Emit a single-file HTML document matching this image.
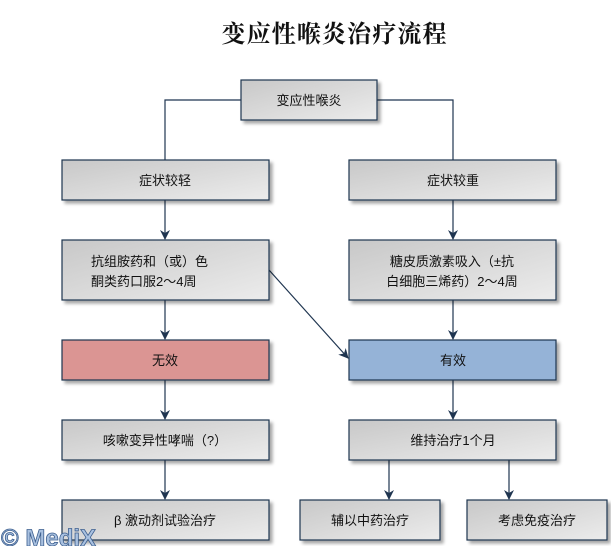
<!DOCTYPE html>
<html><head><meta charset="utf-8"><style>
body{margin:0;width:611px;height:546px;background:#fff;overflow:hidden;font-family:"Liberation Sans","Noto Sans CJK SC",sans-serif}
</style></head><body>
<svg width="611" height="546" xmlns="http://www.w3.org/2000/svg" style="font-family:'Liberation Sans','Noto Sans CJK SC',sans-serif">
<defs>
<linearGradient id="g" x1="0" y1="0" x2="1" y2="1"><stop offset="0" stop-color="#c8c8c8"/><stop offset="1" stop-color="#ececec"/></linearGradient>
<filter id="s" x="-10%" y="-20%" width="130%" height="160%"><feDropShadow dx="3" dy="3" stdDeviation="1.5" flood-color="#000" flood-opacity="0.35"/></filter>
<marker id="a" markerWidth="10" markerHeight="12" refX="9" refY="6" orient="auto" markerUnits="userSpaceOnUse"><path d="M0,1 L10,6 L0,11 L3,6 z" fill="#1f3550"/></marker>
</defs>
<text x="334" y="42" text-anchor="middle" font-size="24" font-weight="bold" fill="#111" textLength="225" style="font-family:'Liberation Serif','Noto Serif CJK SC',serif">变应性喉炎治疗流程</text>
<g stroke="#1f3550" stroke-width="1.2" fill="none">
<polyline points="241,100 165,100 165,160"/>
<polyline points="377,100 453,100 453,160"/>
<line x1="165" y1="200" x2="165" y2="239" marker-end="url(#a)"/>
<line x1="453" y1="200" x2="453" y2="239" marker-end="url(#a)"/>
<line x1="165" y1="300" x2="165" y2="339" marker-end="url(#a)"/>
<line x1="453" y1="300" x2="453" y2="339" marker-end="url(#a)"/>
<line x1="269" y1="270" x2="348" y2="358" marker-end="url(#a)"/>
<line x1="165" y1="380" x2="165" y2="419" marker-end="url(#a)"/>
<line x1="453" y1="380" x2="453" y2="419" marker-end="url(#a)"/>
<line x1="165" y1="460" x2="165" y2="499" marker-end="url(#a)"/>
<line x1="389" y1="460" x2="389" y2="499" marker-end="url(#a)"/>
<line x1="509" y1="460" x2="509" y2="499" marker-end="url(#a)"/>
</g>
<g stroke="#1f3550" stroke-width="1.2" filter="url(#s)">
<rect x="241" y="80" width="136" height="40" fill="url(#g)"/>
<rect x="62" y="160" width="207" height="40" fill="url(#g)"/>
<rect x="349" y="160" width="207" height="40" fill="url(#g)"/>
<rect x="62" y="240" width="207" height="60" fill="url(#g)"/>
<rect x="349" y="240" width="207" height="60" fill="url(#g)"/>
<rect x="62" y="340" width="207" height="40" fill="#db9593"/>
<rect x="349" y="340" width="207" height="40" fill="#95b3d7"/>
<rect x="62" y="420" width="207" height="40" fill="url(#g)"/>
<rect x="349" y="420" width="207" height="40" fill="url(#g)"/>
<rect x="62" y="500" width="207" height="40" fill="url(#g)"/>
<rect x="300" y="500" width="140" height="40" fill="url(#g)"/>
<rect x="467" y="500" width="140" height="40" fill="url(#g)"/>
</g>
<g font-size="13" fill="#111" text-anchor="middle">
<text x="309" y="105">变应性喉炎</text>
<text x="165" y="185">症状较轻</text>
<text x="453" y="185">症状较重</text>
<text x="91" y="266" text-anchor="start">抗组胺药和（或）色</text>
<text x="91" y="286" text-anchor="start">酮类药口服2～4周</text>
<text x="452" y="266">糖皮质激素吸入（±抗</text>
<text x="452" y="286">白细胞三烯药）2～4周</text>
<text x="165" y="365">无效</text>
<text x="453" y="365">有效</text>
<text x="165" y="445">咳嗽变异性哮喘（?）</text>
<text x="453" y="445">维持治疗1个月</text>
<text x="165" y="525">β 激动剂试验治疗</text>
<text x="370" y="525">辅以中药治疗</text>
<text x="537" y="525">考虑免疫治疗</text>
</g>
<text x="1" y="546" font-size="24" font-weight="bold" fill="#a9c1e0" stroke="#3d5f8f" stroke-width="0.8">© MediX</text>
</svg>
</body></html>
